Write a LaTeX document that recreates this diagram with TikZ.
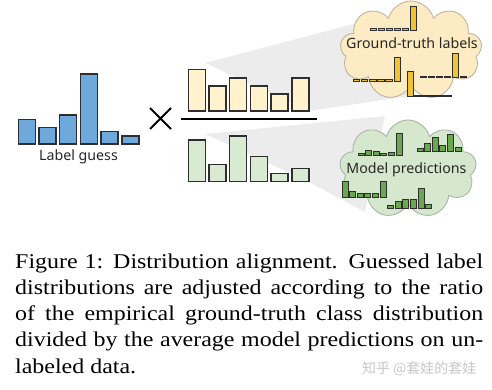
\documentclass[tikz,border=0pt]{standalone}
\usepackage{fontspec}
\setmainfont[FakeStretch=1.14]{Liberation Serif}
\newfontfamily\labelfont{Noto Sans}
\newfontfamily\cjkfont{Noto Sans CJK SC}
\usetikzlibrary{shapes.symbols}
\definecolor{guessblue}{HTML}{6FA8DC}
\definecolor{gtfill}{HTML}{FFF2CC}
\definecolor{gtcloud}{HTML}{FCEBC3}
\definecolor{gtbar}{HTML}{F1C232}
\definecolor{predfill}{HTML}{D9EAD3}
\definecolor{predcloud}{HTML}{D5E8CE}
\definecolor{predbar}{HTML}{6AA84F}
\definecolor{fan}{HTML}{ECECEC}
\definecolor{barline}{HTML}{2E2E2E}

\begin{document}
\begin{tikzpicture}[x=1pt,y=-1pt,
    bar/.style={draw=barline,line width=1.4pt},
    minibar/.style={draw=barline,line width=0.8pt},
    puff/.style={cloud,cloud puffs=9,cloud ignores aspect,inner sep=0pt,line width=0.9pt},
    tag/.style={font=\labelfont\fontsize{14.2}{16}\selectfont,text=black!85}]
  \useasboundingbox (0,0) rectangle (492,390);

  % grey fans behind the fractions
  \fill[fan] (205,63) -- (380,17) -- (410,96) -- (309,111) -- cycle;
  \fill[fan] (205,134) -- (385,116) -- (365,212) -- (309,182) -- cycle;

  % label guess
  \foreach \h [count=\i from 0] in {24.7,16.3,29,70,12.3,8}
    \draw[bar,fill=guessblue] (18.3+20.7*\i,144) rectangle ++(17,-\h);
  \node[tag] (guess) at (78.5,157) {Label guess};

  % times and fraction bar
  \draw[line width=2pt] (150,108) -- (171,129) (150,129) -- (171,108);
  \draw[line width=2pt] (181,119.3) -- (317,119.3);

  % numerator and denominator
  \foreach \h [count=\i from 0] in {41.7,25,33,25,17,33}
    \draw[bar,fill=gtfill] (188.3+20.7*\i,111) rectangle ++(17,-\h);
  \foreach \h [count=\i from 0] in {41.3,16.6,45.3,24.6,8,12.6}
    \draw[bar,fill=predfill] (188.3+20.7*\i,181.3) rectangle ++(17,-\h);

  % clouds
  \node[puff,draw=gtcloud!50!gray,fill=gtcloud,minimum width=142pt,minimum height=99pt] (gt) at (411,50.5) {};
  \node[puff,draw=predcloud!50!gray,fill=predcloud,minimum width=137pt,minimum height=98pt] (pred) at (408,169) {};

  % ground-truth samples
  \foreach \h [count=\i from 0] in {1.5,1.5,1.5,1.5,1.5,24}
    \draw[minibar,fill=gtbar] (370+8*\i,30) rectangle ++(6.5,-\h);
  \foreach \h [count=\i from 0] in {1.5,1.5,1.5,1.5,1.5,24}
    \draw[minibar,fill=gtbar] (353+8.2*\i,81) rectangle ++(6.5,-\h);
  \foreach \h [count=\i from 0] in {25,1.5,1.5,1.5,1.5,1.5}
    \draw[minibar,fill=gtbar] (407+7.5*\i,96.5) rectangle ++(6.5,-\h);
  \foreach \h [count=\i from 0] in {1.5,1.5,1.5,1.5,24,1.5}
    \draw[minibar,fill=gtbar] (420+8*\i,77.5) rectangle ++(6.5,-\h);
  \node[tag] (gtlabel) at (412,43) {Ground-truth labels};

  % model prediction samples
  \foreach \h [count=\i from 0] in {2,5,4,2,2.5,22}
    \draw[minibar,fill=predbar] (358+7.6*\i,155) rectangle ++(6,-\h);
  \foreach \h [count=\i from 0] in {2.7,8,14,6,17,4}
    \draw[minibar,fill=predbar] (417+7.6*\i,151) rectangle ++(6,-\h);
  \foreach \h [count=\i from 0] in {16,5.5,4,3.5,4,16}
    \draw[minibar,fill=predbar] (342+7.6*\i,197) rectangle ++(6,-\h);
  \foreach \h [count=\i from 0] in {3,7,9,9,20,4}
    \draw[minibar,fill=predbar] (387.5+7.6*\i,208) rectangle ++(6,-\h);
  \node[tag] (predlabel) at (406.5,170) {Model predictions};

  % caption
  \node[anchor=north west,text width=468pt,align=justify,inner sep=0pt,
        font=\fontsize{21}{26.2}\selectfont] (caption) at (15,253.5)
    {Figure 1: Distribution alignment. Guessed label\linebreak
     distributions are adjusted according to the ratio\linebreak
     of the empirical ground-truth class distribution\linebreak
     divided by the average model predictions on un-\linebreak
     labeled data.};
  \node[anchor=base east,font=\cjkfont\fontsize{14}{14}\selectfont,text=black!22] (mark) at (480,373) {知乎 @套娃的套娃};
\end{tikzpicture}
\end{document}
